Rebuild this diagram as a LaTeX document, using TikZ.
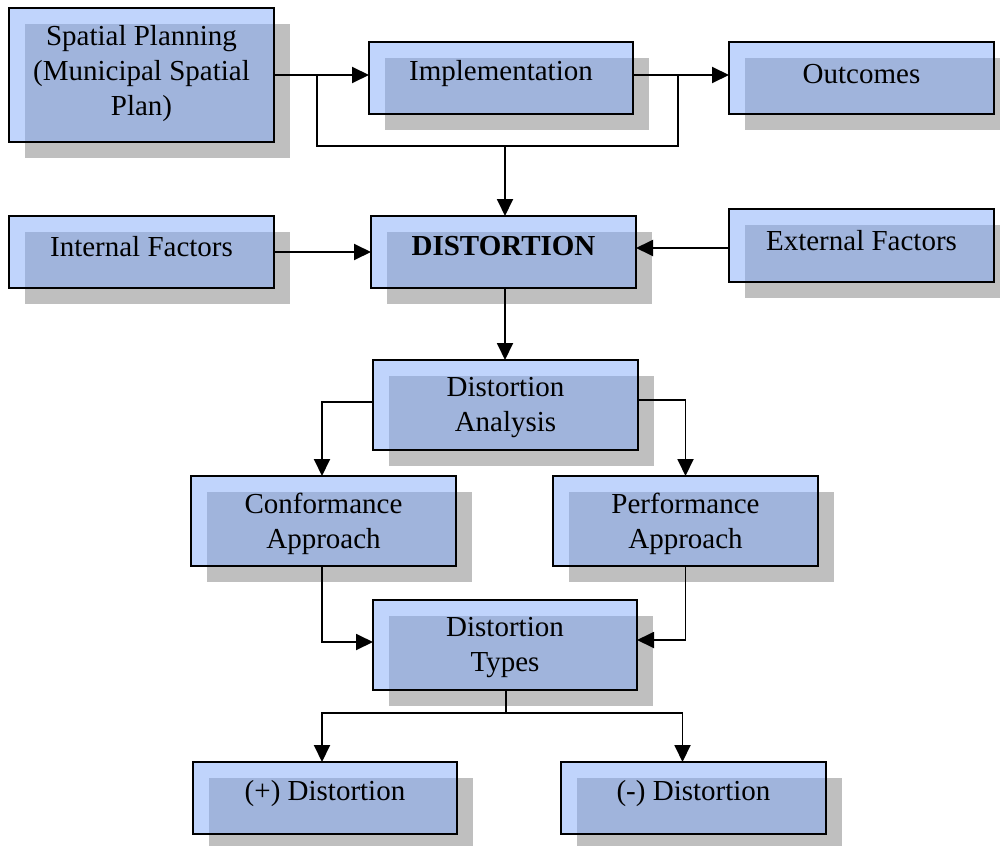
\documentclass[tikz,border=0pt]{standalone}
\usepackage{fontspec}
\setmainfont{Liberation Serif}
\usetikzlibrary{arrows.meta}
\definecolor{lb}{RGB}{192,212,252}
\definecolor{ov}{RGB}{160,180,220}
\definecolor{shd}{RGB}{191,191,191}
\tikzset{
  bx/.style={draw=black,line width=1.6pt,inner sep=0pt,outer sep=0pt,rectangle},
  lbl/.style={align=center,font=\fontsize{29}{35}\selectfont,inner sep=0pt},
  conn/.style={line width=1.9pt},
  arr/.style={conn,-{Triangle[length=17pt,width=16pt]}}
}
\newcommand\mybox[7]{%
  \fill[shd] ({#2+16},{#3+16}) rectangle ({#4+16},{#5+16});
  \fill[lb] (#2,#3) rectangle (#4,#5);
  \fill[ov] ({#2+16},{#3+16}) rectangle (#4,#5);
  \pgfmathsetmacro\bw{#4-#2}\pgfmathsetmacro\bh{#5-#3}%
  \node[bx,minimum width=\bw pt,minimum height=\bh pt] (#1) at ({(#2+#4)/2},{(#3+#5)/2}) {};
  \node[lbl] (#1-t) at ({(#2+#4)/2},#6) {#7};
}
\begin{document}
\begin{tikzpicture}[x=1pt,y=-1pt]
\useasboundingbox (0,0) rectangle (1000,845);
\mybox{sp}{9}{8}{274}{142}{74}{Spatial Planning\\(Municipal Spatial\\Plan)}
\mybox{impl}{369}{42}{633}{114}{74}{Implementation}
\mybox{outc}{729}{42}{994}{114}{74}{Outcomes}
\mybox{intf}{9}{216}{274}{288}{247}{Internal Factors}
\mybox{dist}{371}{216}{636}{288}{246}{\textbf{DISTORTION}}
\mybox{extf}{729}{209}{994}{282}{241}{External Factors}
\mybox{da}{373}{360}{638}{450}{408}{Distortion\\Analysis}
\mybox{conf}{191}{476}{456}{566}{524}{Conformance\\Approach}
\mybox{perf}{553}{476}{818}{566}{524}{Performance\\Approach}
\mybox{dt}{373}{600}{637}{690}{648}{Distortion\\Types}
\mybox{plus}{193}{762}{457}{834}{794}{(+) Distortion}
\mybox{minus}{561}{762}{826}{834}{794}{(-) Distortion}
% connectors
\coordinate (j1) at (317,75);
\coordinate (j2) at (678,75);
\coordinate (j3) at (505,146);
\draw[arr] (sp.east |- j1) -- (impl.west |- j1);
\draw[arr] (impl.east |- j2) -- (outc.west |- j2);
\draw[conn] (j1) |- (j2 |- j3) -- (j2);
\draw[arr] (j3) -- (dist.north -| j3);
\draw[arr] (intf.east) -- (dist.west);
\draw[arr] ([yshift=-2.5pt]extf.west) -- ([yshift=-2.5pt]extf.west -| dist.east);
\draw[arr] (dist.south -| j3) -- (da.north -| j3);
\draw[arr] ([yshift=3pt]da.west) -| ([xshift=-1.5pt]conf.north);
\draw[arr] ([yshift=5pt]da.east) -| (perf.north);
\draw[arr] ([xshift=-1.5pt]conf.south) |- ([yshift=3pt]dt.west);
\draw[arr] (perf.south) |- ([yshift=5pt]dt.east);
\coordinate (k) at (506,713);
\draw[conn] (dt.south -| k) -- (k);
\draw[arr] (k) -| ([xshift=-3pt]plus.north);
\draw[arr] (k) -| ([xshift=-11pt]minus.north);
\end{tikzpicture}
\end{document}
